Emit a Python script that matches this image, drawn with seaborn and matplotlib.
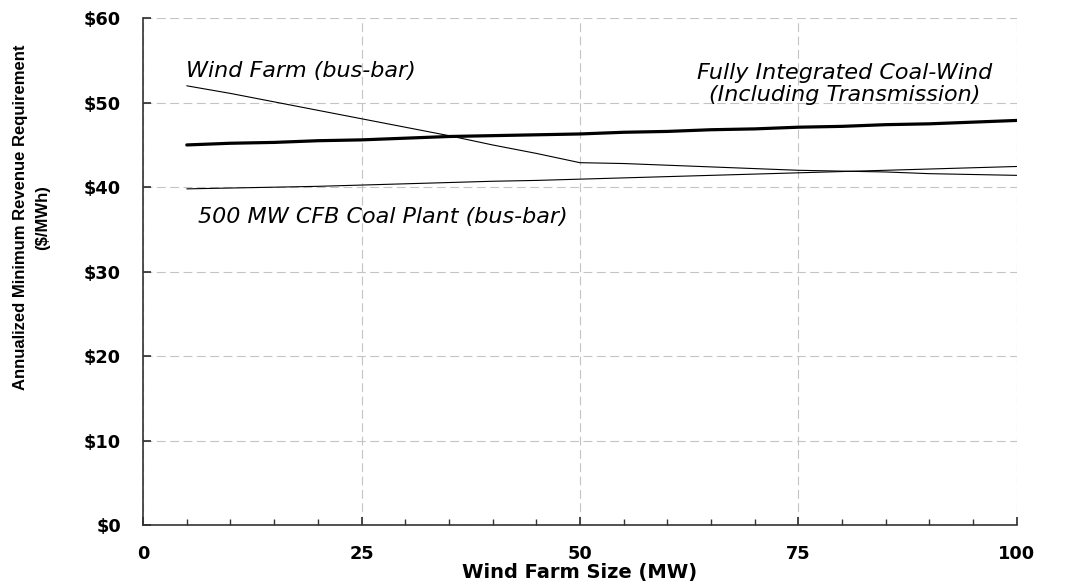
import matplotlib
matplotlib.use("Agg")
import matplotlib.pyplot as plt
import seaborn as sns
import pandas as pd
from matplotlib.ticker import MultipleLocator, FuncFormatter

sns.set_theme(style="white")
plt.rcParams['font.family'] = ['DejaVu Sans']
plt.rcParams['text.color'] = 'black'
plt.rcParams['axes.labelcolor'] = 'black'

# wind farm size (MW)
size_mw = [5, 10, 15, 20, 25, 30, 35, 40, 45, 50,
           55, 60, 65, 70, 75, 80, 85, 90, 95, 100]

# $/MWh
wind_farm = [52.0, 51.1, 50.1, 49.1, 48.1, 47.1, 46.1, 45.0, 44.0, 42.9,
             42.8, 42.6, 42.4, 42.2, 42.0, 41.9, 41.8, 41.6, 41.5, 41.4]
integrated = [45.0, 45.2, 45.3, 45.5, 45.6, 45.8, 46.0, 46.1, 46.2, 46.3,
              46.5, 46.6, 46.8, 46.9, 47.1, 47.2, 47.4, 47.5, 47.7, 47.9]
coal_plant = [39.8, 39.9, 40.0, 40.1, 40.25, 40.4, 40.55, 40.7, 40.8, 40.95,
              41.1, 41.25, 41.4, 41.55, 41.7, 41.85, 42.0, 42.15, 42.3, 42.45]

df = pd.DataFrame({"size": size_mw, "wind": wind_farm,
                   "integrated": integrated, "coal": coal_plant})

fig = plt.figure(figsize=(10.68, 5.88), dpi=100)
ax = fig.add_axes([0.134, 0.107, 0.818, 0.862])

sns.lineplot(data=df, x="size", y="wind", color="black", linewidth=0.8, ax=ax)
sns.lineplot(data=df, x="size", y="coal", color="black", linewidth=0.8, ax=ax)
sns.lineplot(data=df, x="size", y="integrated", color="black", linewidth=2.3, ax=ax)

ax.set_xlim(0, 100)
ax.set_ylim(0, 60)
ax.xaxis.set_major_locator(MultipleLocator(25))
ax.xaxis.set_minor_locator(MultipleLocator(5))
ax.yaxis.set_major_locator(MultipleLocator(10))
ax.yaxis.set_major_formatter(FuncFormatter(lambda v, p: f"${v:.0f}"))

ax.grid(True, which="major", color="#c4c4c4", linestyle=(0, (8, 4)), linewidth=0.8)
for s in ["top", "right"]:
    ax.spines[s].set_visible(False)
for s in ["left", "bottom"]:
    ax.spines[s].set_color("#333333")
    ax.spines[s].set_linewidth(1.2)

ax.tick_params(axis="both", which="both", direction="in", colors="#333333",
               labelcolor="black", left=True, bottom=True)
ax.tick_params(axis="both", which="major", length=6, labelsize=12.8)
ax.tick_params(axis="x", which="major", pad=14.5)
ax.tick_params(axis="y", which="major", pad=16)
ax.tick_params(axis="x", which="minor", length=4)
for lbl in ax.get_xticklabels() + ax.get_yticklabels():
    lbl.set_fontweight("bold")

ax.set_xlabel("Wind Farm Size (MW)", fontsize=14, fontweight="bold")
ax.xaxis.set_label_coords(0.5, -0.074)
ax.set_ylabel("Annualized Minimum Revenue Requirement\n($/MWh)", fontsize=12,
              fontweight="bold", linespacing=1.6, family=["Liberation Sans"])
ax.yaxis.set_label_coords(-0.106, 0.607)

ax.text(4.9, 53.1, "Wind Farm (bus-bar)", fontsize=16, style="italic")
ax.text(6.3, 35.8, "500 MW CFB Coal Plant (bus-bar)", fontsize=16, style="italic")
ax.text(80.3, 52.2, "Fully Integrated Coal-Wind\n(Including Transmission)",
        fontsize=16, style="italic", ha="center", va="center", linespacing=1.1)

fig.savefig("out.png", dpi=100)
